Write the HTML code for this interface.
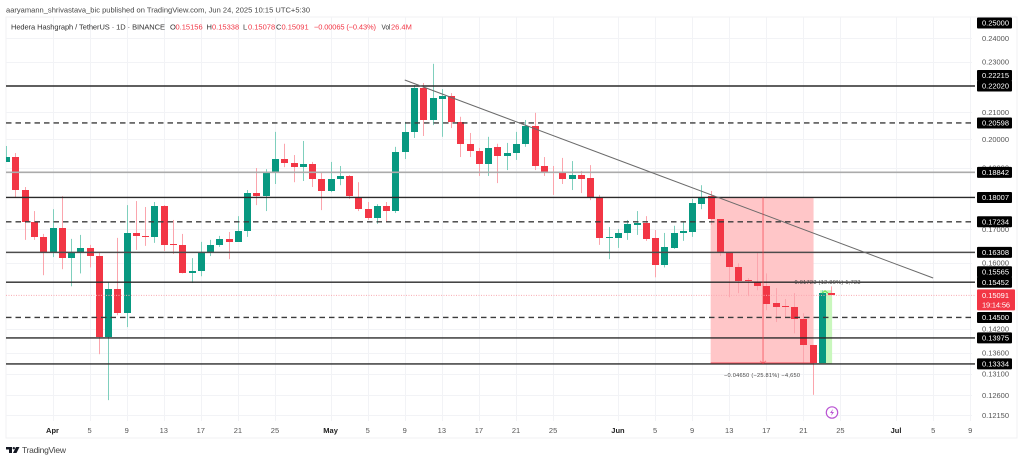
<!DOCTYPE html>
<html lang="en">
<head>
<meta charset="utf-8">
<title>HBAR/USDT chart</title>
<style>
html,body{margin:0;padding:0;background:#fff;width:1024px;height:461px;overflow:hidden}
svg{display:block;font-family:"Liberation Sans",sans-serif}
</style>
</head>
<body>
<svg id="chart" xmlns="http://www.w3.org/2000/svg" width="1024" height="461" viewBox="0 0 1024 461">
  <defs><clipPath id="pane-clip"><rect x="6" y="17" width="966" height="404"/></clipPath></defs>
  <rect x="6" y="17" width="1011" height="421" fill="#fff" stroke="#f1f1f3" stroke-width="1"/>
  <g id="grid"></g>
  <g id="position"></g>
  <g id="candles" clip-path="url(#pane-clip)"></g>
  <g id="levels"></g>
  <g id="overlay"></g>
  <g id="time-axis"></g>
  <g id="price-axis"></g>

  <text x="6" y="12.5" font-size="7.5" fill="#444" textLength="304" lengthAdjust="spacing">aaryamann_shrivastava_bic published on TradingView.com, Jun 24, 2025 10:15 UTC+5:30</text>
  <g font-size="7.5">
    <text x="11" y="29.5" fill="#333" textLength="154" lengthAdjust="spacing">Hedera Hashgraph / TetherUS · 1D · BINANCE</text>
    <text x="170" y="29.5" fill="#333">O</text>
    <text x="175.5" y="29.5" fill="#f23645">0.15156</text>
    <text x="206.5" y="29.5" fill="#333">H</text>
    <text x="212" y="29.5" fill="#f23645">0.15338</text>
    <text x="243" y="29.5" fill="#333">L</text>
    <text x="248" y="29.5" fill="#f23645">0.15078</text>
    <text x="276" y="29.5" fill="#333">C</text>
    <text x="281.5" y="29.5" fill="#f23645">0.15091</text>
    <text x="314" y="29.5" fill="#f23645" textLength="62" lengthAdjust="spacing">−0.00065 (−0.43%)</text>
    <text x="381.5" y="29.5" fill="#333" textLength="9" lengthAdjust="spacingAndGlyphs">Vol</text>
    <text x="391" y="29.5" fill="#f23645">26.4M</text>
  </g>

  <g>
    <circle cx="832" cy="412.5" r="5.7" fill="#fff" stroke="#ba55d3" stroke-width="1.2"/>
    <polygon points="833,409 830,413 832,413 831,416 834,412 832,412" fill="#ba55d3"/>
  </g>

  <g>
    <polygon points="6,447 12,447 12,453 9,453 9,449.5 6,449.5" fill="#131722"/>
    <circle cx="13.8" cy="448.2" r="1.2" fill="#131722"/>
    <polygon points="16,447 19.5,447 16.5,453 13,453" fill="#131722"/>
    <text x="22" y="453" font-size="8.5" fill="#444" textLength="44" lengthAdjust="spacing">TradingView</text>
  </g>
</svg>

<script>
// ---------- chart data ----------
const firstDay = -5; // days relative to 1 April 2025
const candleOpen = [.1920,.1937,.1825,.1723,.1677,.1632,.1704,.1614,.1629,.1644,.1620,.1400,.1526,.1461,.1689,.1680,.1677,.1773,.1656,.1653,.1570,.1576,.1632,.1653,.1671,.1662,.1695,.1815,.1805,.1885,.1930,.1916,.1902,.1913,.1861,.1822,.1861,.1872,.1802,.1763,.1735,.1773,.1757,.1955,.2027,.2194,.2071,.2151,.2163,.2064,.1984,.1958,.1913,.1973,.1941,.1951,.1984,.2049,.1906,.1885,.1882,.1861,.1875,.1865,.1799,.1674,.1674,.1689,.1714,.1720,.1674,.1593,.1644,.1689,.1692,.1779,.1805,.1732,.1632,.1587,.1551,.1545,.1534,.1488,.1480,.1477,.1446,.1380,.1336,.15156];
const candleHigh = [.1976,.1951,.1835,.1757,.1686,.1763,.1805,.1671,.1683,.1653,.1629,.1545,.1674,.1776,.1789,.1770,.1786,.1776,.1729,.1686,.1614,.1662,.1668,.1680,.1692,.1741,.1825,.1899,.1895,.2027,.1984,.1944,.1994,.1920,.1885,.1920,.1906,.1875,.1851,.1786,.1779,.1786,.1973,.2064,.2206,.2214,.2292,.2190,.2174,.2083,.2023,.1969,.2009,.1984,.1987,.2027,.2071,.2098,.1937,.1906,.1934,.1923,.1889,.1909,.1809,.1707,.1701,.1729,.1757,.1741,.1698,.1689,.1711,.1723,.1796,.1841,.1822,.1732,.1632,.1599,.1557,.1632,.1570,.1529,.1499,.1515,.1461,.1380,.1523,.15338];
const candleLow = [.1920,.1802,.1668,.1668,.1565,.1617,.1582,.1534,.1570,.1587,.1357,.1249,.1456,.1425,.1638,.1650,.1659,.1635,.1626,.1570,.1543,.1562,.1620,.1647,.1611,.1662,.1677,.1776,.1757,.1845,.1902,.1851,.1855,.1835,.1760,.1818,.1841,.1796,.1757,.1729,.1717,.1723,.1751,.1930,.2005,.2012,.2052,.2009,.2041,.1937,.1937,.1872,.1872,.1848,.1892,.1927,.1973,.1892,.1872,.1809,.1845,.1825,.1815,.1792,.1653,.1611,.1644,.1668,.1683,.1665,.1559,.1587,.1641,.1665,.1677,.1763,.1714,.1620,.1504,.1515,.1507,.1523,.1469,.1438,.1448,.1409,.1336,.1261,.1336,.15078];
const candleClose = [.1937,.1825,.1723,.1677,.1632,.1704,.1614,.1629,.1644,.1620,.1400,.1526,.1461,.1689,.1680,.1677,.1773,.1653,.1653,.1570,.1576,.1632,.1653,.1671,.1662,.1695,.1815,.1805,.1885,.1930,.1916,.1902,.1913,.1861,.1822,.1861,.1872,.1805,.1763,.1735,.1773,.1757,.1955,.2027,.2194,.2071,.2155,.2163,.2064,.1984,.1958,.1913,.1969,.1941,.1951,.1984,.2049,.1906,.1885,.1882,.1861,.1875,.1861,.1799,.1674,.1677,.1689,.1717,.1720,.1671,.1593,.1647,.1689,.1695,.1782,.1802,.1732,.1632,.1587,.1548,.1548,.1534,.1485,.1477,.1477,.1446,.1380,.1336,.1515,.15091];

const priceTicks = [.24,.23,.21,.20,.19,.17,.16,.142,.136,.131,.126,.1215];
const solidLevels = [.2202,.18007,.15452,.13975,.13334];
const greyLevels = [.18842];
const midGreyLevels = [.16308];
const dashedLevels = [.20598,.17234,.145];
const labelledPrices = [.25,.22215,.2202,.20598,.18842,.18007,.17234,.16308,.15565,.15452,.145,.13975,.13334];
const lastPrice = .15091;
const countdownText = "19:14:56";

const timeDays = [0,4,8,12,16,20,24,30,34,38,42,46,50,54,61,65,69,73,77,81,85,91,95,99];
const timeLabels = ["Apr","5","9","13","17","21","25","May","5","9","13","17","21","25","Jun","5","9","13","17","21","25","Jul","5","9"];

const trendDays = [38,95];
const trendPrices = [.2226,.1557];
const shortDays = [71,82.1];
const shortPrices = [.18007,.13334];
const shortArrowDay = 76.65;
const longDays = [82.8,84.1];
const longPrices = [.1523,.13334];

// ---------- axis functions ----------
function xDay(d){ return 52.5 + 9.27 * d; }
function yPrice(p){ return 86 + 554 * Math.log(0.2202 / p); }

const NS = "http://www.w3.org/2000/svg";
function make(tag, parent, attrs, text){
  const el = document.createElementNS(NS, tag);
  for (const k in attrs) el.setAttribute(k, attrs[k]);
  if (text !== undefined) el.textContent = text;
  parent.appendChild(el);
  return el;
}
const grid = document.getElementById("grid");
const position = document.getElementById("position");
const candles = document.getElementById("candles");
const levels = document.getElementById("levels");
const overlay = document.getElementById("overlay");
const timeAxis = document.getElementById("time-axis");
const priceAxis = document.getElementById("price-axis");

// ---------- grid ----------
priceTicks.forEach(function(p){
  const line = make("line", grid, {x1:6,x2:972,y1:Math.round(yPrice(p))+.5,y2:Math.round(yPrice(p))+.5,stroke:"#f2f3f6","stroke-width":1});
  
  
});
timeDays.forEach(function(d){
  const line = make("line", grid, {x1:Math.round(xDay(d))+.5,x2:Math.round(xDay(d))+.5,y1:17,y2:421,stroke:"#f2f3f6","stroke-width":1});
  
  
});

// ---------- short position zone (under candles) ----------
const shortRect = make("rect", position, {x:xDay(shortDays[0]),y:yPrice(shortPrices[0]),width:xDay(shortDays[1])-xDay(shortDays[0]),height:yPrice(shortPrices[1])-yPrice(shortPrices[0]),fill:"#ffc6c8"});


const longRect = make("rect", position, {x:xDay(longDays[0]),y:yPrice(longPrices[0]),width:xDay(longDays[1])-xDay(longDays[0]),height:yPrice(longPrices[1])-yPrice(longPrices[0]),fill:"#c9f7bd"});



// ---------- candles ----------
candleOpen.forEach(function(o, i){
  const c = candleClose[i], up = c >= o;
  const x = Math.round(xDay(firstDay + i));
  const top = Math.round(yPrice(Math.max(o, c)));
  const bot = Math.round(yPrice(Math.min(o, c)));
  const wick = make("rect", candles, {x:x,y:yPrice(candleHigh[i]),width:1,height:yPrice(candleLow[i])-yPrice(candleHigh[i]),fill:up?"#7fcfbd":"#fba5ad"});
  
  
  const body = make("rect", candles, {x:x-3,y:top,width:7,height:Math.max(1,bot-top),fill:up?"#089981":"#f23645"});
  
  
});

// ---------- horizontal levels ----------
solidLevels.forEach(function(p){
  const line = make("line", levels, {x1:6,x2:975,y1:yPrice(p),y2:yPrice(p),stroke:"#2a2a2a","stroke-width":1.4});
  
  
});
greyLevels.forEach(function(p){
  const line = make("line", levels, {x1:6,x2:975,y1:yPrice(p),y2:yPrice(p),stroke:"#ababab","stroke-width":1.6});
  
  
});
midGreyLevels.forEach(function(p){
  const line = make("line", levels, {x1:6,x2:975,y1:yPrice(p),y2:yPrice(p),stroke:"#4c4c4c","stroke-width":1.6});
  
  
});
dashedLevels.forEach(function(p){
  const line = make("line", levels, {x1:6,x2:975,y1:yPrice(p),y2:yPrice(p),stroke:"#3c3c3c","stroke-width":1.4,"stroke-dasharray":"5.5 4"});
  
  
});

// ---------- overlays ----------
const priceLine = make("line", overlay, {x1:6,x2:975,y1:yPrice(lastPrice),y2:yPrice(lastPrice),stroke:"#f9a9b0","stroke-width":1,"stroke-dasharray":"1 1.5"});



const trend = make("line", overlay, {x1:xDay(trendDays[0]),y1:yPrice(trendPrices[0]),x2:xDay(trendDays[1]),y2:yPrice(trendPrices[1]),stroke:"#6a6a6a","stroke-width":1});



const shortArrow = make("line", overlay, {x1:xDay(shortArrowDay),x2:xDay(shortArrowDay),y1:yPrice(shortPrices[0]),y2:yPrice(shortPrices[1]),stroke:"#f23645","stroke-opacity":.42,"stroke-width":1.6});


const ax = xDay(shortArrowDay), ay = yPrice(shortPrices[1]);
const shortHead = make("polyline", overlay, {points:(ax-3)+","+(ay-3)+" "+ax+","+(ay-.5)+" "+(ax+3)+","+(ay-3),fill:"none",stroke:"#f23645","stroke-opacity":.55,"stroke-width":1});


const shortBase = make("line", overlay, {x1:xDay(shortDays[0]),x2:xDay(shortDays[1]),y1:ay-1,y2:ay-1,stroke:"#f23645","stroke-opacity":.7,"stroke-width":1});



const lx = xDay(longDays[0]) + 5, ly = yPrice(longPrices[0]);
const longHead = make("polyline", overlay, {points:(lx-3)+","+(ly+3)+" "+lx+","+(ly+.5)+" "+(lx+3)+","+(ly+3),fill:"none",stroke:"#5fe04a","stroke-width":1});



const longText = make("text", overlay, {x:794.5,y:284,"font-size":5.6,fill:"#444",textLength:66,lengthAdjust:"spacing"}, "0.01723 (12.89%) 1,723");


const shortText = make("text", overlay, {x:724,y:377,"font-size":5.6,fill:"#444",textLength:76,lengthAdjust:"spacing"}, "−0.04650 (−25.81%) −4,650");



// ---------- time axis ----------
timeDays.forEach(function(d, i){
  const isMonth = isNaN(Number(timeLabels[i]));
  const t = make("text", timeAxis, {x:xDay(d),y:433,"font-size":7.5,"text-anchor":"middle",fill:isMonth?"#222":"#555","font-weight":isMonth?"700":"400"}, timeLabels[i]);
  
  
});

// ---------- price axis ----------
priceTicks.forEach(function(p){
  const t = make("text", priceAxis, {x:982,y:yPrice(p)+2.7,"font-size":7.5,fill:"#555",textLength:27,lengthAdjust:"spacing"}, p.toFixed(5));
  
  
});
// labels stack upward from the bottom when they collide, and clamp at the pane top
let nextY = 9999;
const labelY = labelledPrices.slice().sort(function(a,b){return a-b;}).map(function(p){
  let y = yPrice(p);
  if (y > nextY - 10.5) y = nextY - 10.5;
  y = Math.max(y, 23);
  nextY = y;
  return {p:p, y:y};
});
labelY.forEach(function(item){
  const box = make("rect", priceAxis, {x:977,y:item.y-5.5,width:35,height:11,fill:"#000",rx:1});
  
  
  const t = make("text", priceAxis, {x:982,y:item.y+2.7,"font-size":7.5,fill:"#fff",textLength:27,lengthAdjust:"spacing"}, item.p.toFixed(5));
  
  
});
const lastY = yPrice(lastPrice);
const lastBox = make("rect", priceAxis, {x:977,y:lastY-6,width:38,height:21,fill:"#f23645",rx:1});


const lastText = make("text", priceAxis, {x:982,y:lastY+2.7,"font-size":7.5,fill:"#fff",textLength:27,lengthAdjust:"spacing"}, lastPrice.toFixed(5));


const countText = make("text", priceAxis, {x:982,y:lastY+12,"font-size":7.5,fill:"#fff",textLength:28,lengthAdjust:"spacing"}, countdownText);


</script>
</body>
</html>
